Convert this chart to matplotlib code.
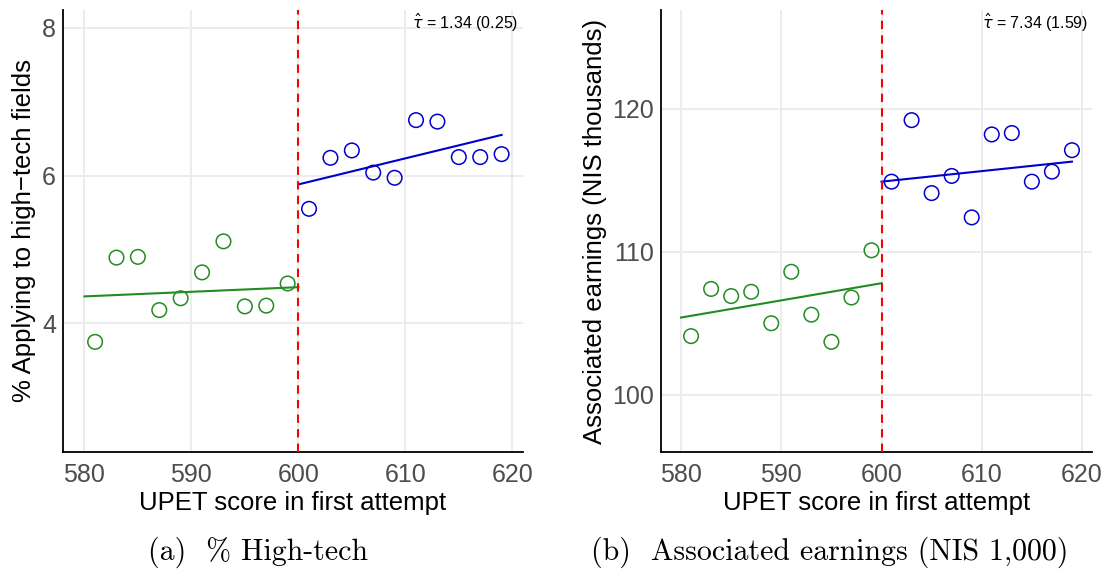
import matplotlib
matplotlib.use("Agg")
import matplotlib.pyplot as plt

# scores (bin midpoints)
x_below = [581, 583, 585, 587, 589, 591, 593, 595, 597, 599]
x_above = [601, 603, 605, 607, 609, 611, 613, 615, 617, 619]

# panel (a): % applying to high-tech fields
ht_below = [3.75, 4.89, 4.90, 4.18, 4.34, 4.69, 5.11, 4.23, 4.24, 4.54]
ht_above = [5.55, 6.24, 6.34, 6.04, 5.97, 6.75, 6.73, 6.25, 6.25, 6.29]
ht_fit_below = [4.365, 4.49]
ht_fit_above = [5.88, 6.55]

# panel (b): associated earnings
earn_below = [104.1, 107.4, 106.9, 107.2, 105.0, 108.6, 105.6, 103.7, 106.8, 110.1]
earn_above = [114.9, 119.2, 114.1, 115.3, 112.4, 118.2, 118.3, 114.9, 115.6, 117.1]
earn_fit_below = [105.4, 107.8]
earn_fit_above = [114.9, 116.3]

fit_x_below = [580, 600]
fit_x_above = [600, 619]

plt.rcParams['font.family'] = ['Liberation Sans', 'DejaVu Sans']

fig = plt.figure(figsize=(11.05, 5.75), dpi=100)
ax1 = fig.add_axes([63 / 1105, 1 - 452 / 575, 460 / 1105, 442 / 575])
ax2 = fig.add_axes([661 / 1105, 1 - 452 / 575, 431 / 1105, 442 / 575])

panels = [
    (ax1, ht_below, ht_above, ht_fit_below, ht_fit_above, (2.26, 8.24), [4, 6, 8],
     "% Applying to high\u2212tech fields", r"$\hat{\tau}$ = 1.34 (0.25)"),
    (ax2, earn_below, earn_above, earn_fit_below, earn_fit_above, (96.0, 126.9), [100, 110, 120],
     "Associated earnings (NIS thousands)", r"$\hat{\tau}$ = 7.34 (1.59)"),
]

for ax, yb, ya, fb, fa, ylim, yticks, ylabel, tau in panels:
    ax.scatter(x_below, yb, s=110, facecolors='none', edgecolors='#228b22', linewidths=1.1, zorder=3)
    ax.scatter(x_above, ya, s=110, facecolors='none', edgecolors='#0000cd', linewidths=1.1, zorder=3)
    ax.plot(fit_x_below, fb, color='#228b22', lw=1.5, zorder=3)
    ax.plot(fit_x_above, fa, color='#0000cd', lw=1.5, zorder=3)
    ax.axvline(600, color='#ff0000', lw=1.5, ls=(0, (4, 3)), zorder=4)

    ax.set_xlim(578, 621)
    ax.set_ylim(*ylim)
    ax.set_xticks([580, 590, 600, 610, 620])
    ax.set_yticks(yticks)
    ax.grid(True, color='#ebebeb', lw=1.3)
    ax.set_axisbelow(True)
    ax.tick_params(length=0, labelsize=18, labelcolor='#4d4d4d', pad=5)
    ax.tick_params(axis='x', pad=8)
    for s in ['top', 'right']:
        ax.spines[s].set_visible(False)
    for s in ['left', 'bottom']:
        ax.spines[s].set_linewidth(1.3)
        ax.spines[s].set_color('black')
    ax.set_xlabel("UPET score in first attempt", fontsize=18.5, labelpad=3)
    ax.set_ylabel(ylabel, fontsize=18.5, labelpad=4)
    ax.text(0.99, 0.995, tau, transform=ax.transAxes, ha='right', va='top', fontsize=11.5)

fig.text(258 / 1105, 1 - 552 / 575, "(a)  % High-tech", family=['cmr10', 'DejaVu Serif'],
         fontsize=21.5, ha='center', va='center')
fig.text(830 / 1105, 1 - 552 / 575, "(b)  Associated earnings (NIS 1,000)", family=['cmr10', 'DejaVu Serif'],
         fontsize=21.5, ha='center', va='center')

fig.savefig("out.png", dpi=100)
